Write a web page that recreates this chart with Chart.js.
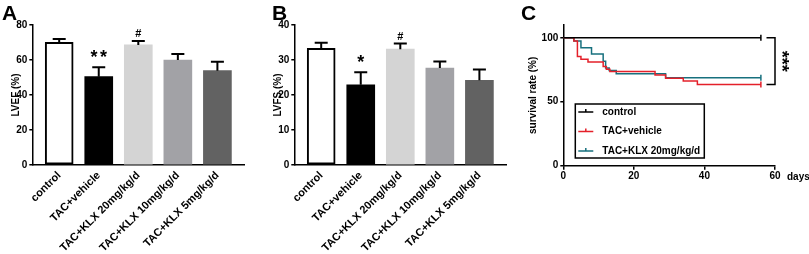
<!DOCTYPE html>
<html>
<head>
<meta charset="utf-8">
<script src="https://cdn.jsdelivr.net/npm/chart.js@4.4.1/dist/chart.umd.min.js"></script>
<style>
  html, body { margin: 0; padding: 0; background: #fff; }
  #wrap { position: relative; width: 809px; height: 254px; overflow: hidden; }
  canvas { position: absolute; top: 0; }
  .tag { position: absolute; top: 2px; font: bold 21px/21px 'Liberation Sans', Arial, sans-serif; color: #000; z-index: 2; }
</style>
</head>
<body>
<div id="wrap">
  <canvas id="chartA" width="262" height="254" style="left:0px"></canvas>
  <canvas id="chartB" width="262" height="254" style="left:262px"></canvas>
  <canvas id="chartC" width="285" height="254" style="left:524px"></canvas>
  <div class="tag" style="left:2px">A</div>
  <div class="tag" style="left:272px">B</div>
  <div class="tag" style="left:521px">C</div>
</div>
<script>
// groups shown in panels A and B
const groups = ['control', 'TAC+vehicle', 'TAC+KLX 20mg/kg/d', 'TAC+KLX 10mg/kg/d', 'TAC+KLX 5mg/kg/d'];

// panel A: LVEF (%) mean and SEM
const lvefMean = [70.1, 50.5, 68.6, 60.0, 53.9];
const lvefSem = [1.9, 5.3, 2.3, 3.4, 5.1];
const lvefMarks = ['', '**', '#', '', ''];

// panel B: LVFS (%) mean and SEM
const lvfsMean = [33.3, 22.9, 33.1, 27.7, 24.2];
const lvfsSem = [1.6, 3.6, 1.6, 1.9, 3.1];
const lvfsMarks = ['', '*', '#', '', ''];

// panel C: survival curves (day of each drop, survival after it)
const survGroups = ['control', 'TAC+vehicle', 'TAC+KLX 20mg/kg/d'];
const controlDays = [0, 56];
const controlSurv = [100, 100];
const vehicleDays = [0, 3, 4, 5, 7, 11.3, 12.2, 13.2, 26, 29, 34, 38, 56];
const vehicleSurv = [100, 97.5, 85.4, 83.3, 81.0, 77.5, 75.5, 73.7, 71.0, 68.3, 66.2, 63.5, 63.5];
const klxDays = [0, 3, 5, 8, 11.3, 12, 13, 15, 29, 56];
const klxSurv = [100, 97.5, 92.3, 87.3, 81.6, 76.3, 74.5, 71.9, 68.8, 68.8];
const survSignif = '***';

const xTicksC = [0, 20, 40, 60];
const yTicksC = [0, 50, 100];

const FONT = "'Liberation Sans', Arial, sans-serif";
Chart.defaults.font.family = FONT;
Chart.defaults.font.weight = 'bold';
Chart.defaults.font.size = 10;
Chart.defaults.color = '#000';

const barFill = ['#ffffff', '#000000', '#d4d4d4', '#a2a2a6', '#626262'];
const lineColors = ['#000000', '#e4202a', '#17707e'];

// error bars + significance marks on top of the bars
const errBars = {
  id: 'errbars',
  afterDatasetsDraw(chart, args, opts) {
    const { ctx, scales: { x, y } } = chart;
    ctx.save();
    ctx.strokeStyle = '#000';
    ctx.fillStyle = '#000';
    ctx.lineWidth = 2;
    opts.means.forEach((m, i) => {
      const px = x.getPixelForValue(i);
      const base = y.getPixelForValue(m);
      const top = y.getPixelForValue(m + opts.sems[i]);
      ctx.beginPath();
      ctx.moveTo(px, base);
      ctx.lineTo(px, top);
      ctx.moveTo(px - 6.5, top);
      ctx.lineTo(px + 6.5, top);
      ctx.stroke();
      const mark = opts.marks[i];
      if (mark) {
        const star = mark.includes('*');
        ctx.font = 'bold ' + (star ? 18 : 11) + 'px ' + FONT;
        ctx.letterSpacing = star ? '2.5px' : '0px';
        const mt = ctx.measureText(mark);
        const w = mt.width - (star ? 2.5 : 0);
        const gh = mt.actualBoundingBoxAscent - mt.actualBoundingBoxDescent;
        const cy = top - 8;
        ctx.textAlign = 'left';
        ctx.textBaseline = 'alphabetic';
        ctx.fillText(mark, px - w / 2, cy + gh / 2 + mt.actualBoundingBoxDescent);
      }
    });
    ctx.restore();
  }
};

function makeBarChart(id, means, sems, marks, yMax, yStep, yTitle) {
  return new Chart(document.getElementById(id), {
    type: 'bar',
    data: {
      datasets: [{
        data: means.map((v, i) => ({ x: i, y: v })),
        backgroundColor: barFill,
        borderColor: '#000',
        borderWidth: [2, 0, 0, 0, 0],
        borderSkipped: false,
        barThickness: 28
      }]
    },
    options: {
      responsive: false,
      animation: false,
      layout: { padding: { left: 0, top: 25, right: 17.7, bottom: 0 } },
      plugins: {
        legend: { display: false },
        tooltip: { enabled: false },
        errbars: { means: means, sems: sems, marks: marks }
      },
      scales: {
        x: {
          type: 'linear',
          offset: false,
          min: -0.68,
          max: 4.68,
          afterFit: s => { s.height = 89; },
          grid: { display: false, drawTicks: false, offset: false },
          border: { display: true, color: '#000', width: 1.5 },
          ticks: {
            stepSize: 1,
            autoSkip: false,
            minRotation: 45,
            maxRotation: 45,
            padding: 4,
            font: { size: 11, weight: 'bold' },
            callback: v => (Number.isInteger(v) && groups[v] !== undefined ? groups[v] : '')
          }
        },
        y: {
          min: 0,
          max: yMax,
          afterFit: s => { s.width = 32.3; },
          grid: { drawOnChartArea: false, color: '#000', tickLength: 3, lineWidth: 1.5 },
          border: { display: true, color: '#000', width: 1.5 },
          ticks: { stepSize: yStep, padding: 2, font: { size: 10, weight: 'bold' } },
          title: { display: true, text: yTitle, padding: { top: 10, bottom: 0 }, font: { size: 10, weight: 'bold' } }
        }
      }
    },
    plugins: [errBars]
  });
}

makeBarChart('chartA', lvefMean, lvefSem, lvefMarks, 80, 20, 'LVEF (%)');
makeBarChart('chartB', lvfsMean, lvfsSem, lvfsMarks, 40, 10, 'LVFS (%)');

// legend box, significance bracket and "days" label for panel C
const kmExtras = {
  id: 'kmExtras',
  afterDraw(chart, args, opts) {
    const { ctx, chartArea, scales: { x, y } } = chart;
    ctx.save();
    // legend
    const bx = chartArea.left + 12, by = 104, bw = 129, bh = 54;
    ctx.strokeStyle = '#000';
    ctx.lineWidth = 1.5;
    ctx.strokeRect(bx, by, bw, bh);
    ctx.font = 'bold 10px ' + FONT;
    ctx.textBaseline = 'middle';
    ctx.textAlign = 'left';
    chart.data.datasets.forEach((ds, i) => {
      const ly = by + 8 + i * 19.5;
      ctx.strokeStyle = ds.borderColor;
      ctx.lineWidth = 1.5;
      ctx.beginPath();
      ctx.moveTo(bx + 3, ly);
      ctx.lineTo(bx + 18, ly);
      ctx.moveTo(bx + 10.5, ly - 3);
      ctx.lineTo(bx + 10.5, ly);
      ctx.stroke();
      ctx.fillStyle = '#000';
      ctx.fillText(ds.label, bx + 27, ly);
    });
    // bracket between control and vehicle
    const d0 = chart.data.datasets[0].data, d1 = chart.data.datasets[1].data;
    const yTop = y.getPixelForValue(d0[d0.length - 1].y);
    const yBot = y.getPixelForValue(d1[d1.length - 1].y);
    const xr = chartArea.right;
    ctx.strokeStyle = '#000';
    ctx.lineWidth = 1.5;
    ctx.beginPath();
    ctx.moveTo(xr - 8.5, yTop);
    ctx.lineTo(xr, yTop);
    ctx.lineTo(xr, yBot);
    ctx.lineTo(xr - 8.5, yBot);
    ctx.stroke();
    ctx.translate(xr + 10, (yTop + yBot) / 2);
    ctx.rotate(Math.PI / 2);
    ctx.font = 'bold 18px ' + FONT;
    ctx.textAlign = 'center';
    ctx.textBaseline = 'middle';
    ctx.fillStyle = '#000';
    ctx.fillText(opts.signif, 0, 4);
    ctx.restore();
    // days label
    ctx.save();
    ctx.font = 'bold 10px ' + FONT;
    ctx.fillStyle = '#000';
    ctx.textAlign = 'left';
    ctx.textBaseline = 'middle';
    ctx.fillText('days', chartArea.right + 12, chartArea.bottom + 11.5);
    ctx.restore();
  }
};

function kmSet(label, days, surv, color) {
  return {
    label: label,
    data: days.map((d, i) => ({ x: d, y: surv[i] })),
    borderColor: color,
    backgroundColor: color,
    borderWidth: 1.5,
    stepped: 'before',
    fill: false,
    pointStyle: 'line',
    rotation: 90,
    pointBorderWidth: 1.5,
    pointRadius: ctx => (ctx.dataIndex === days.length - 1 ? 3 : 0)
  };
}

new Chart(document.getElementById('chartC'), {
  type: 'line',
  data: {
    datasets: [
      kmSet(survGroups[0], controlDays, controlSurv, lineColors[0]),
      kmSet(survGroups[1], vehicleDays, vehicleSurv, lineColors[1]),
      kmSet(survGroups[2], klxDays, klxSurv, lineColors[2])
    ]
  },
  options: {
    responsive: false,
    animation: false,
    layout: { padding: { left: 0, top: 25, right: 34, bottom: 0 } },
    plugins: {
      legend: { display: false },
      tooltip: { enabled: false },
      kmExtras: { signif: survSignif }
    },
    scales: {
      x: {
        type: 'linear',
        min: 0,
        max: 60,
        afterFit: s => { s.height = 88.3; },
        afterBuildTicks: s => { s.ticks = xTicksC.map(v => ({ value: v })); },
        grid: { drawOnChartArea: false, color: '#000', tickLength: 4, lineWidth: 1.5 },
        border: { display: true, color: '#000', width: 1.5 },
        ticks: { padding: 1, font: { size: 10, weight: 'bold' } }
      },
      y: {
        min: 0,
        max: 110,
        afterFit: s => { s.width = 39.3; },
        afterBuildTicks: s => { s.ticks = yTicksC.map(v => ({ value: v })); },
        grid: { drawOnChartArea: false, color: '#000', tickLength: 3, lineWidth: 1.5 },
        border: { display: true, color: '#000', width: 1.5 },
        ticks: { padding: 2, font: { size: 10, weight: 'bold' } },
        title: { display: true, text: 'survival rate (%)', padding: { top: 3, bottom: 0 }, font: { size: 10, weight: 'bold' } }
      }
    }
  },
  plugins: [kmExtras]
});
</script>
</body>
</html>
